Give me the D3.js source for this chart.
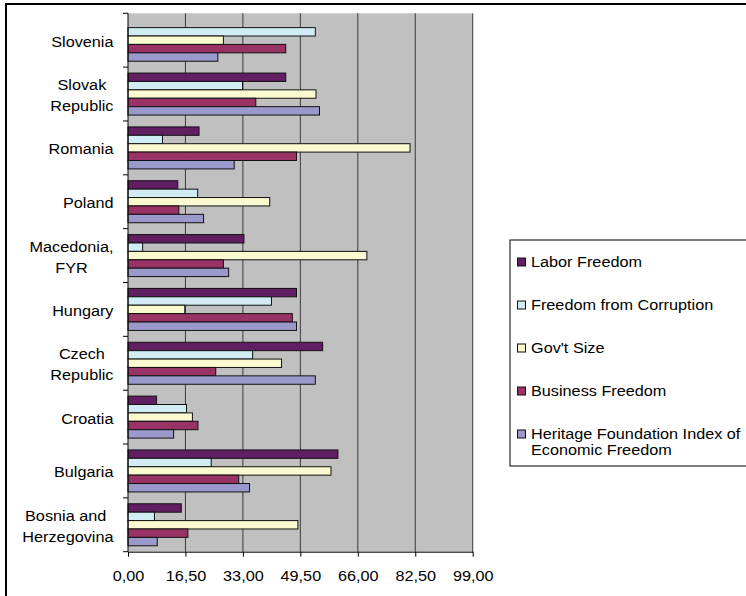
<!DOCTYPE html>
<html>
<head>
<meta charset="utf-8">
<script src="https://cdn.jsdelivr.net/npm/d3@7"></script>
<style>
  html, body { margin: 0; padding: 0; background: #fff; }
  svg { display: block; font-family: "Liberation Sans", Arial, sans-serif; }
</style>
</head>
<body>
<svg id="chart" width="746" height="596"></svg>
<script>
// categories, top to bottom as in the picture
var countries = ["Slovenia", "Slovak Republic", "Romania", "Poland", "Macedonia, FYR",
                 "Hungary", "Czech Republic", "Croatia", "Bulgaria", "Bosnia and Herzegovina"];
var countryLines = [["Slovenia"], ["Slovak", "Republic"], ["Romania"], ["Poland"], ["Macedonia,", "FYR"],
                    ["Hungary"], ["Czech", "Republic"], ["Croatia"], ["Bulgaria"], ["Bosnia and ", "Herzegovina"]];

var seriesNames = ["Labor Freedom", "Freedom from Corruption", "Gov't Size", "Business Freedom",
                   "Heritage Foundation Index of Economic Freedom"];
var legendLines = [["Labor Freedom"], ["Freedom from Corruption"], ["Gov't Size"], ["Business Freedom"],
                   ["Heritage Foundation Index of", "Economic Freedom"]];

// values (Slovenia has no labor bar)
var laborFreedom          = [null, 45.3, 20.4, 14.3, 33.3, 48.4, 55.9,  8.2, 60.3, 15.3];
var freedomFromCorruption = [53.8, 32.9,  9.9, 20.0,  4.2, 41.2, 35.8, 16.8, 23.9,  7.6];
var govtSize              = [27.4, 54.0, 81.0, 40.7, 68.6, 16.3, 44.1, 18.5, 58.3, 48.8];
var businessFreedom       = [45.3, 36.7, 48.4, 14.6, 27.4, 47.2, 25.2, 20.1, 31.8, 17.2];
var heritageIndex         = [25.8, 55.0, 30.5, 21.7, 28.9, 48.4, 53.8, 13.1, 34.9,  8.4];

var tickValues = [0, 16.5, 33, 49.5, 66, 82.5, 99];

var seriesColors = ["#621e62", "#d1edf3", "#fbf9cf", "#993366", "#9b99cb"];

var allSeries = [laborFreedom, freedomFromCorruption, govtSize, businessFreedom, heritageIndex];

var svg = d3.select("#chart");
var fontSize = 14;
var stretch = 1.16; // text in the picture is wider than it is tall

// outer frame (runs off the right and bottom edges)
svg.append("rect")
    .attr("x", 6).attr("y", 4)
    .attr("width", 760).attr("height", 620)
    .attr("fill", "none").attr("stroke", "#000").attr("stroke-width", 2);

var plotLeft = 128, plotRight = 472.7, plotTop = 13.3, plotBottom = 551.7;

var x = d3.scaleLinear().domain([0, 99]).range([plotLeft, plotRight]);
var y0 = d3.scaleBand().domain(countries).range([plotTop, plotBottom]).paddingInner(0.22).paddingOuter(0.11);
var y1 = d3.scaleBand().domain(seriesNames).range([0, y0.bandwidth()]);
var color = d3.scaleOrdinal().domain(seriesNames).range(seriesColors);

// plot background
svg.append("rect")
    .attr("x", plotLeft).attr("y", plotTop)
    .attr("width", plotRight - plotLeft).attr("height", plotBottom - plotTop)
    .attr("fill", "#c0c0c0");

// vertical gridlines
svg.selectAll(".grid")
    .data(tickValues.slice(1))
    .enter().append("line")
    .attr("class", "grid")
    .attr("x1", function (d) { return x(d); }).attr("x2", function (d) { return x(d); })
    .attr("y1", plotTop).attr("y2", plotBottom)
    .attr("stroke", "#3a3a3a").attr("stroke-width", 1);

// bars
var rows = [];
countries.forEach(function (c, i) {
    seriesNames.forEach(function (s, j) {
        if (allSeries[j][i] != null) rows.push({ country: c, series: s, value: allSeries[j][i] });
    });
});

svg.append("g").selectAll("rect")
    .data(rows)
    .enter().append("rect")
    .attr("x", x(0))
    .attr("y", function (d) { return y0(d.country) + y1(d.series); })
    .attr("width", function (d) { return x(d.value) - x(0); })
    .attr("height", y1.bandwidth())
    .attr("fill", function (d) { return color(d.series); })
    .attr("stroke", "#111")
    .attr("stroke-width", 1);

// x axis
var fmt = d3.format(".2f");
var xAxis = svg.append("g")
    .attr("transform", "translate(0," + plotBottom + ")")
    .call(d3.axisBottom(x).tickValues(tickValues).tickSize(5).tickSizeOuter(0)
        .tickFormat(function (d) { return fmt(d).replace(".", ","); }));
xAxis.select(".domain").attr("stroke", "#000");
xAxis.selectAll(".tick line").attr("stroke", "#000");
xAxis.selectAll(".tick text")
    .attr("y", 29).attr("dy", 0)
    .attr("font-size", fontSize)
    .attr("font-family", "Liberation Sans, Arial, sans-serif")
    .attr("fill", "#000")
    .attr("transform", "scale(" + stretch + ",1)");

// category axis line and boundary ticks
svg.append("line")
    .attr("x1", plotLeft).attr("x2", plotLeft).attr("y1", plotTop).attr("y2", plotBottom)
    .attr("stroke", "#000");
var step = y0.step();
svg.selectAll(".ytick")
    .data(d3.range(countries.length + 1))
    .enter().append("line")
    .attr("class", "ytick")
    .attr("x1", plotLeft - 5).attr("x2", plotLeft)
    .attr("y1", function (i) { return plotTop + i * step; })
    .attr("y2", function (i) { return plotTop + i * step; })
    .attr("stroke", "#000");

// category labels (centered block, right edge near the axis)
var labelRight = 113.5;
countries.forEach(function (c, i) {
    var lines = countryLines[i];
    var cy = y0(c) + y0.bandwidth() / 2 + 1.5;
    var t = svg.append("text")
        .attr("font-size", fontSize)
        .attr("fill", "#000")
        .attr("text-anchor", "middle");
    lines.forEach(function (ln, k) {
        t.append("tspan")
            .attr("x", 0)
            .attr("y", cy + 5 + (k - (lines.length - 1) / 2) * 21)
            .text(ln);
    });
    var w = 0;
    t.selectAll("tspan").each(function () { w = Math.max(w, this.getComputedTextLength()); });
    t.attr("transform", "translate(" + (labelRight - w * stretch / 2) + ",0) scale(" + stretch + ",1)");
});

// legend
var legend = svg.append("g").attr("transform", "translate(510,240)");
legend.append("rect")
    .attr("x", 0).attr("y", 0).attr("width", 260).attr("height", 226)
    .attr("fill", "#fff").attr("stroke", "#000").attr("stroke-width", 1);

var item = legend.selectAll(".item")
    .data(seriesNames)
    .enter().append("g")
    .attr("class", "item")
    .attr("transform", function (d, i) { return "translate(0," + (13 + i * 43) + ")"; });

item.append("rect")
    .attr("x", 7.5).attr("y", 5).attr("width", 8).attr("height", 8)
    .attr("fill", function (d) { return color(d); })
    .attr("stroke", "#111");

item.append("text")
    .attr("font-size", fontSize)
    .attr("fill", "#000")
    .attr("transform", "translate(21,0) scale(" + stretch + ",1)")
    .each(function (d, i) {
        var t = d3.select(this);
        legendLines[i].forEach(function (ln, k) {
            t.append("tspan").attr("x", 0).attr("y", 14 + k * 16).text(ln);
        });
    });
</script>
</body>
</html>
